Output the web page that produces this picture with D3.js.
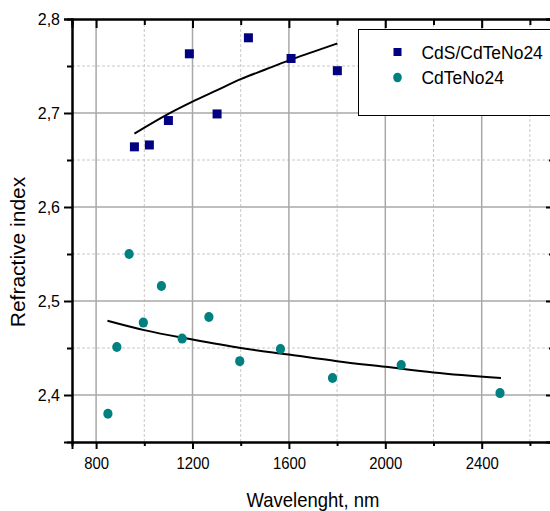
<!DOCTYPE html>
<html><head><meta charset="utf-8">
<script src="https://cdn.jsdelivr.net/npm/d3@7"></script>
<style>body{margin:0;background:#fff}svg{display:block}</style>
</head><body><svg id="c" width="550" height="511"></svg>
<script>
// ---- data ----
const cdsWavelength = [959, 1021, 1100, 1187, 1302, 1432, 1609, 1801];
const cdsIndex      = [2.664, 2.666, 2.692, 2.763, 2.699, 2.780, 2.758, 2.745];
const cdteWavelength = [849, 886, 937, 996, 1071, 1157, 1268, 1396, 1565, 1781, 2066, 2476];
const cdteIndex      = [2.380, 2.451, 2.550, 2.477, 2.516, 2.460, 2.483, 2.436, 2.449, 2.418, 2.432, 2.402];
const cdsFitWavelength = [959, 1100, 1200, 1300, 1400, 1500, 1600, 1700, 1801];
const cdsFitIndex      = [2.678, 2.699, 2.712, 2.724, 2.736, 2.746, 2.756, 2.765, 2.774];
const cdteFitWavelength = [847, 1000, 1200, 1400, 1600, 1800, 2000, 2200, 2480];
const cdteFitIndex      = [2.479, 2.469, 2.459, 2.450, 2.443, 2.436, 2.430, 2.424, 2.418];
const seriesNames = ["CdS/CdTeNo24", "CdTeNo24"];
const xMajorTicks = [800, 1200, 1600, 2000, 2400];
const xMinorTicks = [1000, 1400, 1800, 2200, 2600];
const yMajorTicks = [2.4, 2.5, 2.6, 2.7, 2.8];
const yMinorTicks = [2.45, 2.55, 2.65, 2.75];
const yTickLabels = ["2,4", "2,5", "2,6", "2,7", "2,8"];
const xTitle = "Wavelenght, nm";
const yTitle = "Refractive index";

// ---- layout ----
const L = 72, T = 19, R = 554, B = 442;
const FONT = "'Liberation Sans', Arial, sans-serif";
const svg = d3.select("#c");
const x = d3.scaleLinear().domain([700, 2700]).range([L, R]);
const y = d3.scaleLinear().domain([2.35, 2.8]).range([B, T]);

// horizontal condensing of text (the reference face is slightly narrow)
function condense(sel, k) {
  sel.each(function () {
    const w = this.getComputedTextLength();
    d3.select(this).attr("textLength", w * k).attr("lengthAdjust", "spacingAndGlyphs");
  });
}

// grid
svg.append("g").selectAll("line").data(xMinorTicks).join("line")
  .attr("x1", d => x(d)).attr("x2", d => x(d)).attr("y1", T).attr("y2", B)
  .attr("stroke", "#c8c8c8").attr("stroke-dasharray", "3,2").attr("stroke-width", 1);
svg.append("g").selectAll("line").data(yMinorTicks).join("line")
  .attr("y1", d => y(d)).attr("y2", d => y(d)).attr("x1", L).attr("x2", R)
  .attr("stroke", "#c8c8c8").attr("stroke-dasharray", "3,2").attr("stroke-width", 1);
svg.append("g").selectAll("line").data(xMajorTicks).join("line")
  .attr("x1", d => x(d)).attr("x2", d => x(d)).attr("y1", T).attr("y2", B)
  .attr("stroke", "#a8a8a8").attr("stroke-width", 1.5);
svg.append("g").selectAll("line").data(yMajorTicks.slice(0, 4)).join("line")
  .attr("y1", d => y(d)).attr("y2", d => y(d)).attr("x1", L).attr("x2", R)
  .attr("stroke", "#a8a8a8").attr("stroke-width", 1.5);

// fit lines
const line = d3.line().x(d => x(d[0])).y(d => y(d[1])).curve(d3.curveMonotoneX);
svg.append("path").datum(d3.zip(cdsFitWavelength, cdsFitIndex))
  .attr("d", line).attr("fill", "none").attr("stroke", "#000").attr("stroke-width", 2);
svg.append("path").datum(d3.zip(cdteFitWavelength, cdteFitIndex))
  .attr("d", line).attr("fill", "none").attr("stroke", "#000").attr("stroke-width", 2);

// markers
const sq = 9;
svg.append("g").selectAll("rect").data(d3.zip(cdsWavelength, cdsIndex)).join("rect")
  .attr("x", d => x(d[0]) - sq / 2).attr("y", d => y(d[1]) - sq / 2)
  .attr("width", sq).attr("height", sq).attr("fill", "#000080");
svg.append("g").selectAll("ellipse").data(d3.zip(cdteWavelength, cdteIndex)).join("ellipse")
  .attr("cx", d => x(d[0])).attr("cy", d => y(d[1])).attr("rx", 4.6).attr("ry", 5)
  .attr("fill", "#008080");

// axes
function styleAxis(sel) {
  sel.select(".domain").attr("stroke", "#000").attr("stroke-width", 2);
  sel.selectAll(".tick line").attr("stroke", "#000").attr("stroke-width", 2);
  sel.selectAll(".tick text").attr("font-family", FONT).attr("font-size", 16).attr("fill", "#000");
}
// bottom
svg.append("g").attr("transform", `translate(0,${B})`)
  .call(d3.axisBottom(x).tickValues(xMinorTicks).tickSize(4).tickFormat(""))
  .call(styleAxis);
const bx = svg.append("g").attr("transform", `translate(0,${B})`)
  .call(d3.axisBottom(x).tickValues(xMajorTicks).tickSize(7).tickPadding(8).tickFormat(d3.format("d")))
  .call(styleAxis);
bx.selectAll(".tick text").attr("font-size", 16.5).call(condense, 0.9);
// top (inward)
svg.append("g").attr("transform", `translate(0,${T})`)
  .call(d3.axisTop(x).tickValues(xMinorTicks).tickSize(-6).tickFormat(""))
  .call(styleAxis);
svg.append("g").attr("transform", `translate(0,${T})`)
  .call(d3.axisTop(x).tickValues(xMajorTicks).tickSize(-9).tickFormat(""))
  .call(styleAxis);
// left
svg.append("g").attr("transform", `translate(${L},0)`)
  .call(d3.axisLeft(y).tickValues(yMinorTicks).tickSize(5).tickFormat(""))
  .call(styleAxis);
svg.append("g").attr("transform", `translate(${L},0)`)
  .call(d3.axisLeft(y).tickValues(yMajorTicks).tickSize(8).tickPadding(4)
    .tickFormat((d, i) => yTickLabels[i]))
  .call(styleAxis);
// right (inward)
svg.append("g").attr("transform", `translate(${R},0)`)
  .call(d3.axisRight(y).tickValues(yMajorTicks).tickSize(-8).tickFormat(""))
  .call(styleAxis);
svg.append("g").attr("transform", `translate(${R},0)`)
  .call(d3.axisRight(y).tickValues(yMinorTicks).tickSize(-5).tickFormat(""))
  .call(styleAxis);

// titles
svg.append("text").attr("x", (L + R) / 2).attr("y", 507).attr("text-anchor", "middle")
  .attr("font-family", FONT).attr("font-size", 21).text(xTitle).call(condense, 0.88);
svg.append("text").attr("transform", "translate(25,252) rotate(-90)").attr("text-anchor", "middle")
  .attr("font-family", FONT).attr("font-size", 21).text(yTitle);

// legend
const lg = svg.append("g");
lg.append("rect").attr("x", 358.5).attr("y", 29.5).attr("width", 210).attr("height", 86)
  .attr("fill", "#fff").attr("stroke", "#000").attr("stroke-width", 1);
lg.append("rect").attr("x", 397.5 - 4).attr("y", 52 - 4).attr("width", 8).attr("height", 8).attr("fill", "#000080");
lg.append("ellipse").attr("cx", 397.5).attr("cy", 77.5).attr("rx", 4.3).attr("ry", 4.8).attr("fill", "#008080");
lg.selectAll("text.lt").data(seriesNames).join("text")
  .attr("x", 421.5).attr("y", (d, i) => 59 + i * 24.5)
  .attr("font-family", FONT).attr("font-size", 18).text(d => d).call(condense, 0.97);
</script></body></html>
